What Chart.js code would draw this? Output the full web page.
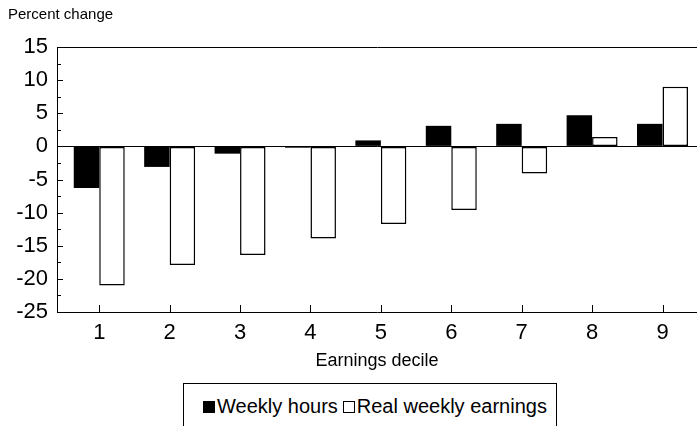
<!DOCTYPE html>
<html>
<head>
<meta charset="utf-8">
<script src="https://cdn.jsdelivr.net/npm/chart.js@4.4.1/dist/chart.umd.min.js"></script>
<style>
  html, body { margin: 0; padding: 0; background: #fff; }
  #wrap { position: relative; width: 697px; height: 426px; overflow: hidden; font-family: "Liberation Sans", Arial, sans-serif; }
  canvas { position: absolute; left: 0; top: 0; }
  #legend {
    position: absolute; left: 183px; top: 383px; width: 374px; height: 60px;
    border: 1px solid #000; box-sizing: border-box; background: #fff;
    display: flex; align-items: flex-start; padding-left: 19px; padding-top: 10px;
    font-size: 20px; color: #000; line-height: 24px; white-space: nowrap;
  }
  .sw { display: inline-block; width: 12px; height: 12px; box-sizing: border-box; border: 1px solid #000; margin-top: 7px; }
  .lab { margin-left: 2px; margin-right: 5px; }
</style>
</head>
<body>
<div id="wrap">
  <canvas id="c" width="697" height="426"></canvas>
  <div id="legend"></div>
</div>
<script>
// Percent change by earnings decile
const deciles = [1, 2, 3, 4, 5, 6, 7, 8, 9];
const weeklyHours = [-6.3, -3.1, -1.1, -0.2, 0.9, 3.1, 3.4, 4.7, 3.4];
const realWeeklyEarnings = [-21.0, -17.9, -16.4, -13.9, -11.7, -9.6, -4.1, 1.4, 9.0];
const seriesNames = ['Weekly hours', 'Real weekly earnings'];
const yMin = -25, yMax = 15;

const FONT = '"Liberation Sans", Arial, sans-serif';

// short tick marks drawn on the inner side of both axes
const insideTicks = {
  id: 'insideTicks',
  afterDatasetsDraw(chart) {
    const { ctx, chartArea, scales: { x, y } } = chart;
    ctx.save();
    ctx.strokeStyle = '#000';
    ctx.lineWidth = 1;
    ctx.beginPath();
    y.ticks.forEach(t => {
      const py = Math.round(y.getPixelForValue(t.value)) + 0.5;
      const len = t.value % 5 === 0 ? 6 : 4;
      ctx.moveTo(chartArea.left, py);
      ctx.lineTo(chartArea.left + len, py);
    });
    x.ticks.forEach(t => {
      const px = Math.round(x.getPixelForValue(t.value)) + 0.5;
      ctx.moveTo(px, chartArea.bottom);
      ctx.lineTo(px, chartArea.bottom - 7);
    });
    ctx.stroke();
    ctx.restore();
  }
};

const chart = new Chart(document.getElementById('c'), {
  type: 'bar',
  data: {
    datasets: [
      {
        label: seriesNames[0],
        data: deciles.map((d, i) => ({ x: d, y: weeklyHours[i] })),
        backgroundColor: '#000',
        borderColor: '#000',
        borderWidth: 0,
        borderSkipped: false
      },
      {
        label: seriesNames[1],
        data: deciles.map((d, i) => ({ x: d, y: realWeeklyEarnings[i] })),
        backgroundColor: '#fff',
        borderColor: '#000',
        borderWidth: 1.5,
        borderSkipped: false
      }
    ]
  },
  options: {
    responsive: false,
    animation: false,
    devicePixelRatio: 1,
    layout: { padding: { left: 8, right: 0, top: 0, bottom: 54 } },
    datasets: { bar: { categoryPercentage: 0.724, barPercentage: 1 } },
    plugins: {
      legend: { display: false },
      tooltip: { enabled: false },
      title: {
        display: true,
        text: 'Percent change',
        align: 'start',
        color: '#000',
        font: { family: FONT, size: 15, weight: 'normal' },
        padding: { top: 6, bottom: 23 }
      }
    },
    scales: {
      x: {
        type: 'linear',
        offset: false,
        min: 0.4,
        max: 9.49,
        afterBuildTicks: s => { s.ticks = deciles.map(v => ({ value: v })); },
        afterFit: s => { s.height = 60; },
        grid: { display: false, drawTicks: false },
        border: { display: true, color: '#000', width: 1 },
        ticks: {
          color: '#000',
          padding: 8,
          font: { family: FONT, size: 22 },
          maxRotation: 0,
          autoSkip: false
        },
        title: {
          display: true,
          text: 'Earnings decile',
          color: '#000',
          font: { family: FONT, size: 18 },
          padding: { top: 0, bottom: 0 }
        }
      },
      y: {
        min: yMin,
        max: yMax,
        afterFit: s => { s.width = 49; },
        grid: {
          drawTicks: false,
          drawOnChartArea: true,
          color: c => (c.tick && (c.tick.value === 0 || c.tick.value === yMax)) ? '#000' : 'rgba(0,0,0,0)',
          lineWidth: 1
        },
        border: { display: true, color: '#000', width: 1 },
        ticks: {
          stepSize: 2.5,
          autoSkip: false,
          color: '#000',
          padding: 9,
          font: { family: FONT, size: 22 },
          callback: v => (v % 5 === 0 ? String(v) : '')
        }
      }
    }
  },
  plugins: [insideTicks]
});

// legend box below the axis title
const legend = document.getElementById('legend');
chart.data.datasets.forEach(ds => {
  const sw = document.createElement('span');
  sw.className = 'sw';
  sw.style.background = ds.backgroundColor;
  const lab = document.createElement('span');
  lab.className = 'lab';
  lab.textContent = ds.label;
  legend.appendChild(sw);
  legend.appendChild(lab);
});
</script>
</body>
</html>
